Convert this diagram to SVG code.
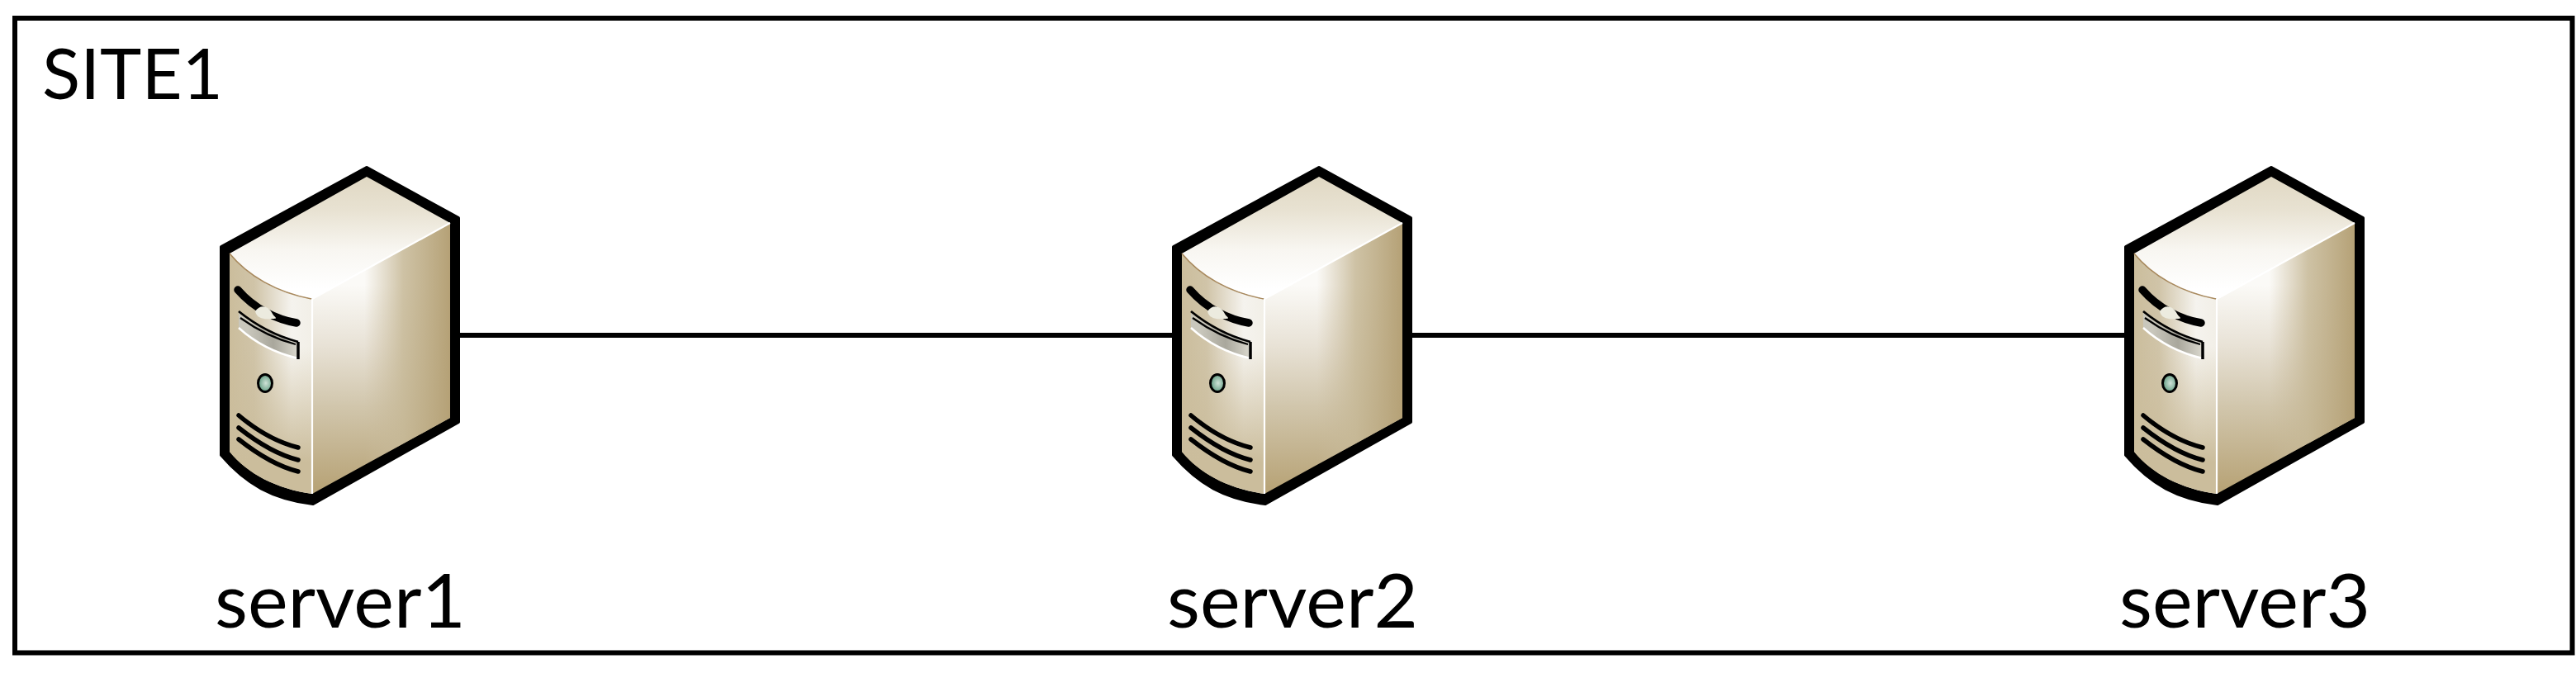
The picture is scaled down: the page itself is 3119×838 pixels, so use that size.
<svg xmlns="http://www.w3.org/2000/svg" width="3119" height="838" viewBox="0 0 3119 838">
<style>
text{font-family:"Lato","Liberation Sans",sans-serif;fill:#000}
.site{font-size:86px}
.name{font-size:91px}
.conn{stroke:#000;stroke-width:6;fill:none}
.slot{stroke:#000;stroke-width:5.5;stroke-linecap:round;fill:none}
</style>
<defs>
<linearGradient id="top" gradientUnits="userSpaceOnUse" x1="0" y1="214" x2="0" y2="350"><stop offset="0" stop-color="#e0d8c3"/><stop offset=".3" stop-color="#e8e2d2"/><stop offset=".65" stop-color="#f8f6f1"/><stop offset="1" stop-color="#ffffff"/></linearGradient>
<linearGradient id="sideV" gradientUnits="userSpaceOnUse" x1="0" y1="345" x2="0" y2="590"><stop offset="0" stop-color="#fbfaf7"/><stop offset=".3" stop-color="#e8e2d6"/><stop offset=".6" stop-color="#d1c6ac"/><stop offset="1" stop-color="#b8a478"/></linearGradient>
<linearGradient id="sideH" gradientUnits="userSpaceOnUse" x1="378" y1="0" x2="545" y2="0"><stop offset="0" stop-color="#c9bb9c" stop-opacity="0"/><stop offset=".38" stop-color="#c9bb9c" stop-opacity="0"/><stop offset=".66" stop-color="#c6b896" stop-opacity=".85"/><stop offset="1" stop-color="#b5a176"/></linearGradient>
<linearGradient id="front" gradientUnits="userSpaceOnUse" x1="278" y1="0" x2="378" y2="0"><stop offset="0" stop-color="#cbbd9c"/><stop offset=".3" stop-color="#d0c4a8"/><stop offset=".75" stop-color="#f5f3ee"/><stop offset="1" stop-color="#f2efe7"/></linearGradient>
<linearGradient id="frontFade" gradientUnits="userSpaceOnUse" x1="0" y1="420" x2="0" y2="560"><stop offset="0" stop-color="#cbbd9c" stop-opacity="0"/><stop offset="1" stop-color="#cbbd9c"/></linearGradient>
<linearGradient id="bay" gradientUnits="userSpaceOnUse" x1="300" y1="0" x2="362" y2="0"><stop offset="0" stop-color="#c9c7bc"/><stop offset=".5" stop-color="#a9a79c"/><stop offset="1" stop-color="#dcdad0"/></linearGradient>
<radialGradient id="led" cx=".55" cy=".5" r=".55"><stop offset="0" stop-color="#cfe2d7"/><stop offset="1" stop-color="#5f9a80"/></radialGradient>
<g id="srv">
<path d="M444 203 555 264V511L379 610C330 604 298 586 268 551V299Z" fill="#000" stroke="#000" stroke-width="4" stroke-linejoin="round"/>
<path d="M278 307 444 214 545 270 378 362C335 354 300 334 278 307Z" fill="url(#top)"/>
<path d="M378 362 545 270V506L378 598Z" fill="url(#sideV)"/>
<path d="M378 362 545 270V506L378 598Z" fill="url(#sideH)"/>
<path d="M278 307C300 334 335 354 378 362V598C335 592 300 574 278 547Z" fill="url(#front)"/>
<path d="M278 307C300 334 335 354 378 362V598C335 592 300 574 278 547Z" fill="url(#frontFade)"/>
<path d="M278 307C300 334 335 354 377 362" fill="none" stroke="#a98a5e" stroke-width="1.6"/>
<path d="M378 362 545 270M378 362V598" fill="none" stroke="#fff" stroke-width="2.2"/>
<path d="M288 351C308 374 335 387 359 391" fill="none" stroke="#000" stroke-width="9.5" stroke-linecap="round"/>
<path d="M309 377C315 368 325 370 330 380 333 385 338 386 329 386 320 387 311 386 309 377Z" fill="#ecebdf"/>
<path d="M289 379 289 397C310 416 335 428 361 434V414C335 408 310 396 289 379Z" fill="url(#bay)"/>
<path d="M289 397C310 416 335 428 361 434" fill="none" stroke="#fff" stroke-width="2.5"/>
<path d="M289 377C310 394 335 407 361 414" fill="none" stroke="#000" stroke-width="2.8"/>
<path d="M291 385C312 400 335 411 358 417" fill="none" stroke="#000" stroke-width="2.2"/>
<path d="M361 414V435" fill="none" stroke="#000" stroke-width="3.5"/>
<ellipse cx="321" cy="464" rx="8.5" ry="10.5" fill="url(#led)" stroke="#000" stroke-width="3"/>
<path class="slot" d="M289 503C308 519 333 535 361 542"/>
<path class="slot" d="M289 518C308 533 333 550 361 557"/>
<path class="slot" d="M289 532C308 547 333 564 361 571"/>
</g>
</defs>
<rect id="site" x="18" y="22" width="3096.5" height="768.5" fill="#fff" stroke="#000" stroke-width="6"/>
<text id="site-label" class="site" x="51" y="120" textLength="219" lengthAdjust="spacingAndGlyphs">SITE1</text>
<g id="connectors">
<line class="conn" x1="550" y1="406" x2="1425" y2="406"/>
<line class="conn" x1="1703" y1="406" x2="2578" y2="406"/>
</g>
<g id="server1"><use href="#srv"/><text class="name" x="260" y="760" textLength="304" lengthAdjust="spacingAndGlyphs">server1</text></g>
<g id="server2"><use href="#srv" x="1153"/><text class="name" x="1413" y="760" textLength="304" lengthAdjust="spacingAndGlyphs">server2</text></g>
<g id="server3"><use href="#srv" x="2306"/><text class="name" x="2566" y="760" textLength="304" lengthAdjust="spacingAndGlyphs">server3</text></g>
</svg>
